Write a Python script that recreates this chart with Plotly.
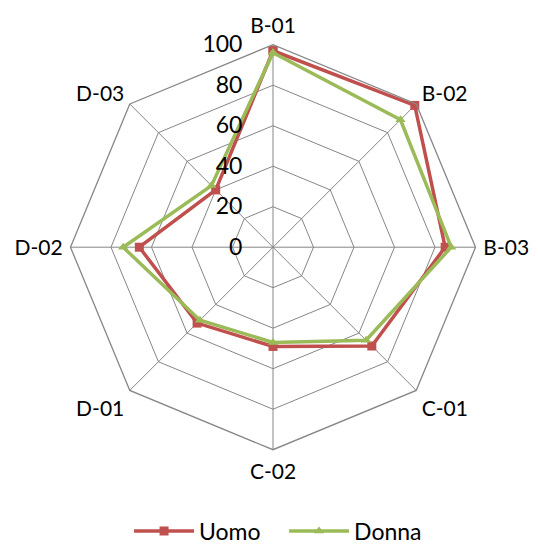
import plotly.graph_objects as go

categories = ["B-01", "B-02", "B-03", "C-01", "C-02", "D-01", "D-02", "D-03"]
uomo = [97, 99, 85, 69, 49, 53, 66, 40]
donna = [96, 89, 88, 65, 47, 51, 74, 43]
radial_ticks = [0, 20, 40, 60, 80, 100]

RED = "#C0504D"
GREEN = "#9BBB59"
GRID = "#868686"
FONT = "Lato, Open Sans, sans-serif"

W, H = 538, 553


def closed(values):
    return values + values[:1]


fig = go.Figure()
fig.add_trace(go.Scatterpolar(
    r=closed(uomo), theta=closed(categories), name="Uomo",
    mode="lines+markers",
    line=dict(color=RED, width=3.5),
    marker=dict(symbol="square", size=9, color=RED),
))
fig.add_trace(go.Scatterpolar(
    r=closed(donna), theta=closed(categories), name="Donna",
    mode="lines+markers",
    line=dict(color=GREEN, width=3.5),
    marker=dict(symbol="triangle-up", size=9, color=GREEN),
))

fig.update_layout(
    width=W, height=H,
    margin=dict(l=0, r=0, t=0, b=0),
    paper_bgcolor="white",
    font=dict(family=FONT, size=21, color="black"),
    polar=dict(
        domain=dict(x=[69 / W, 477 / W], y=[1 - 453 / H, 1 - 45 / H]),
        bgcolor="white",
        gridshape="linear",
        radialaxis=dict(
            range=[0, 100], tickvals=radial_ticks,
            angle=90, side="counterclockwise", tickangle=90,
            showline=False, gridcolor=GRID, gridwidth=1.3,
            ticks="outside", ticklen=22, tickcolor="rgba(0,0,0,0)",
            tickfont=dict(size=23, family=FONT),
        ),
        angularaxis=dict(
            direction="clockwise", rotation=90,
            showline=True, linecolor=GRID, linewidth=1.3,
            gridcolor=GRID, gridwidth=1.3,
            ticks="outside", ticklen=3, tickcolor="rgba(0,0,0,0)",
            tickfont=dict(size=21, family=FONT),
        ),
    ),
    legend=dict(
        orientation="h", x=0.528, xanchor="center", y=1 - 535 / H, yanchor="middle",
        font=dict(size=23, family=FONT),
        itemwidth=60, entrywidth=80,
    ),
    showlegend=True,
)

fig.write_html("out.html")
